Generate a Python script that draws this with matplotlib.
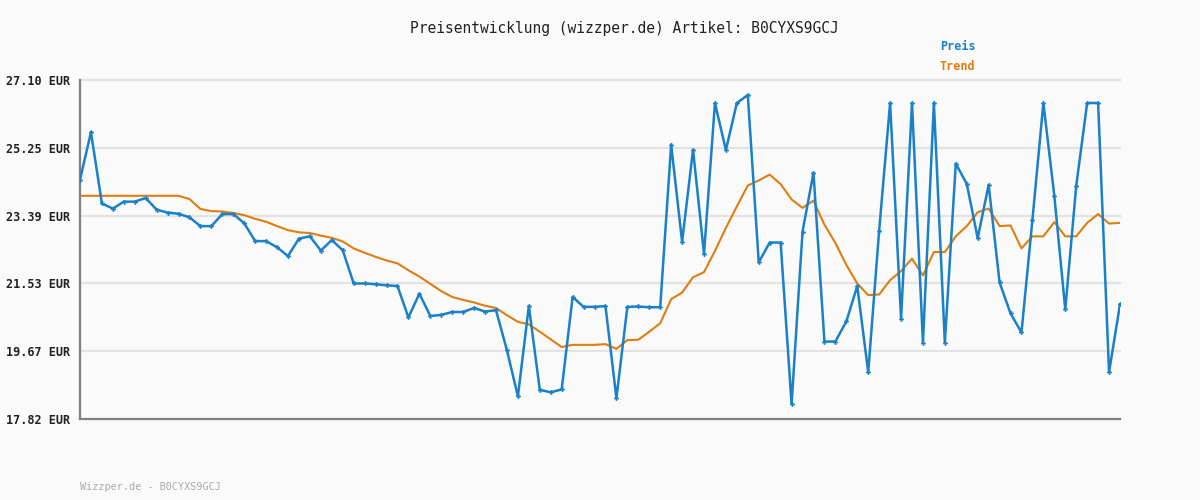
import matplotlib
matplotlib.use("Agg")
import matplotlib.pyplot as plt
import numpy as np

preis = [24.37, 25.67, 23.72, 23.58, 23.77, 23.77, 23.87, 23.55, 23.47, 23.44,
         23.34, 23.10, 23.10, 23.43, 23.43, 23.18, 22.69, 22.69, 22.52, 22.28,
         22.76, 22.82, 22.43, 22.72, 22.44, 21.53, 21.53, 21.51, 21.48, 21.46,
         20.60, 21.25, 20.64, 20.67, 20.75, 20.75, 20.86, 20.76, 20.80, 19.70,
         18.44, 20.91, 18.62, 18.55, 18.63, 21.16, 20.89, 20.89, 20.91, 18.39,
         20.89, 20.90, 20.88, 20.88, 25.33, 22.67, 25.19, 22.34, 26.47, 25.18,
         26.47, 26.69, 22.11, 22.65, 22.65, 18.23, 22.95, 24.56, 19.94, 19.94,
         20.49, 21.46, 19.10, 22.98, 26.47, 20.57, 26.47, 19.91, 26.47, 19.91,
         24.81, 24.26, 22.77, 24.23, 21.56, 20.71, 20.19, 23.27, 26.47, 23.93,
         20.82, 24.20, 26.47, 26.47, 19.10, 20.96]

trend = [23.93, 23.93, 23.93, 23.93, 23.93, 23.93, 23.93, 23.93, 23.93, 23.93,
         23.84, 23.57, 23.51, 23.50, 23.46, 23.40, 23.30, 23.22, 23.10, 22.99,
         22.93, 22.91, 22.84, 22.78, 22.68, 22.49, 22.37, 22.26, 22.16, 22.08,
         21.89, 21.72, 21.52, 21.32, 21.16, 21.08, 21.01, 20.92, 20.86, 20.66,
         20.48, 20.41, 20.21, 20.00, 19.79, 19.85, 19.85, 19.85, 19.87, 19.74,
         19.98, 19.99, 20.21, 20.44, 21.10, 21.28, 21.70, 21.84, 22.42, 23.05,
         23.64, 24.21, 24.35, 24.51, 24.25, 23.83, 23.60, 23.80, 23.14, 22.64,
         22.04, 21.53, 21.21, 21.23, 21.62, 21.87, 22.21, 21.75, 22.39, 22.39,
         22.82, 23.10, 23.48, 23.58, 23.10, 23.12, 22.49, 22.82, 22.82, 23.21,
         22.82, 22.82, 23.19, 23.43, 23.17, 23.19]

ytick_vals = [17.82, 19.67, 21.53, 23.39, 25.25, 27.10]
ytick_labels = ["17.82 EUR", "19.67 EUR", "21.53 EUR", "23.39 EUR", "25.25 EUR", "27.10 EUR"]

title = "Preisentwicklung (wizzper.de) Artikel: B0CYXS9GCJ"
footer = "Wizzper.de - B0CYXS9GCJ"

BG = "#fafafa"
BLUE = "#1a80c8"
ORANGE = "#e07d10"
MONO = ["DejaVu Sans Mono"]

fig = plt.figure(figsize=(12, 5), dpi=100, facecolor=BG)
ax = fig.add_axes([80/1200, 81/500, 1040/1200, 339/500], facecolor=BG)

x = np.arange(len(preis))
ax.set_xlim(0, len(preis) - 1)
ax.set_ylim(ytick_vals[0], ytick_vals[-1])

for v in ytick_vals[1:]:
    ax.axhline(v, color="#e3e3e3", lw=1.6, zorder=0, clip_on=False)

ax.plot(x, trend, color=ORANGE, lw=1.5, zorder=2)
ax.plot(x, preis, color=BLUE, lw=1.8, marker="P", ms=3.5, mew=0, zorder=3)

ax.set_xticks([])
ax.set_yticks(ytick_vals)
ax.set_yticklabels(ytick_labels, family=MONO, fontsize=8.5, fontweight="bold", color="#222222")
ax.tick_params(axis="y", length=0, pad=7)

for s in ["top", "right"]:
    ax.spines[s].set_visible(False)
for s in ["left", "bottom"]:
    ax.spines[s].set_color("#808080")
    ax.spines[s].set_linewidth(1.6)

fig.text(624/1200, 1 - 28/500, title, ha="center", va="center", family=MONO, fontsize=10.5, color="#222222")
fig.text(940/1200, 1 - 47/500, "Preis", ha="left", va="center", family=MONO, fontsize=8.5, fontweight="bold", color=BLUE)
fig.text(940/1200, 1 - 67/500, "Trend", ha="left", va="center", family=MONO, fontsize=8.5, fontweight="bold", color=ORANGE)
fig.text(80/1200, 1 - 487/500, footer, ha="left", va="center", family=MONO, fontsize=7.3, color="#aaaaaa")

fig.savefig("out.png", dpi=100, facecolor=BG)
